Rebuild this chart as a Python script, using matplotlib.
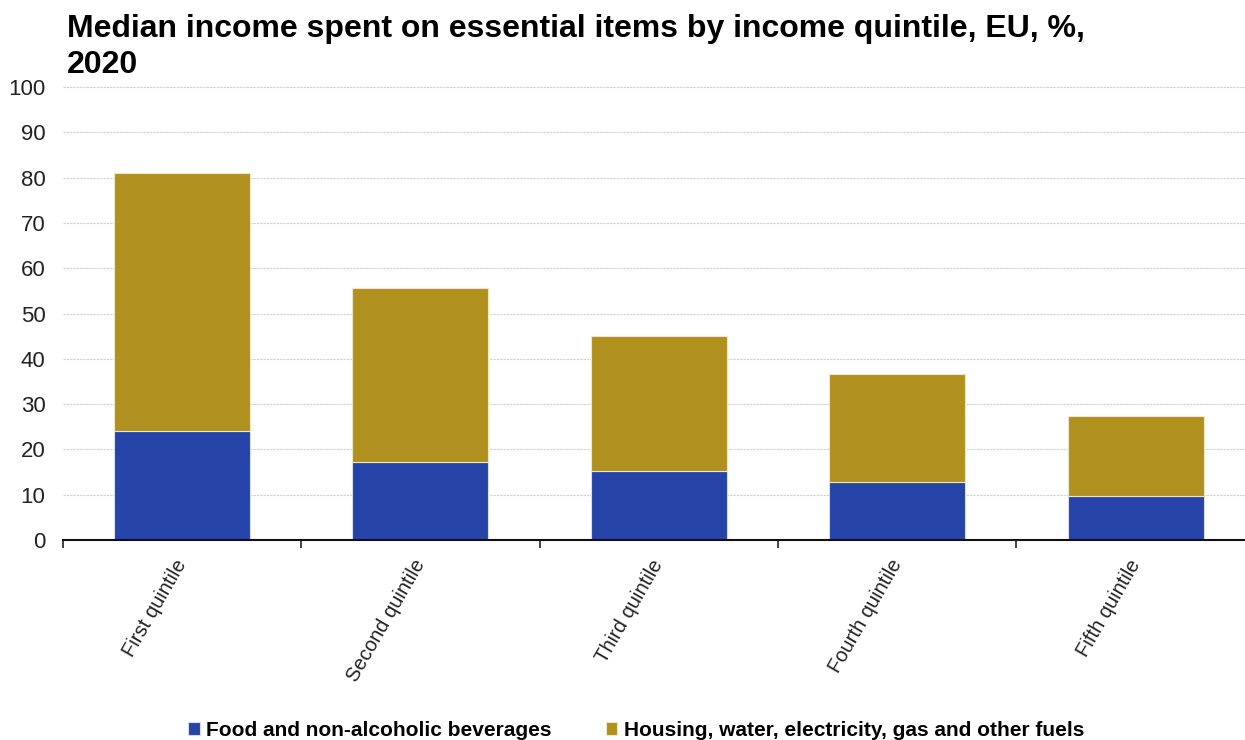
import matplotlib
matplotlib.use("Agg")
import matplotlib.pyplot as plt
import numpy as np

plt.rcParams['font.family'] = ['Liberation Sans', 'DejaVu Sans']

categories = ["First quintile", "Second quintile", "Third quintile",
              "Fourth quintile", "Fifth quintile"]
food = [24.1, 17.2, 15.2, 12.8, 9.7]
housing = [56.9, 38.4, 29.8, 23.8, 17.7]
series_names = ["Food and non-alcoholic beverages",
                "Housing, water, electricity, gas and other fuels"]
title = "Median income spent on essential items by income quintile, EU, %,\n2020"

blue = "#2644A7"
gold = "#B09120"

fig = plt.figure(figsize=(12.45, 7.40), dpi=100)
ax = fig.add_axes([62.8 / 1245, 200 / 740, 1192 / 1245, 453 / 740])

x = np.arange(len(categories))
w = 0.57
ax.bar(x, food, width=w, color=blue, edgecolor="#d8dcef", linewidth=0.8,
       label=series_names[0], zorder=3)
ax.bar(x, housing, width=w, bottom=food, color=gold, edgecolor="#efe6c4",
       linewidth=0.8, label=series_names[1], zorder=3)

ax.set_xlim(-0.5, len(categories) - 0.5)
ax.set_ylim(0, 100)
ax.set_yticks(range(0, 101, 10))
ax.yaxis.grid(True, color="#d0d0d0", linestyle=(0, (2, 1)), linewidth=0.8, zorder=0)
ax.tick_params(axis="y", length=0, labelsize=16, pad=12.5, colors="#222222")

# category labels at bar centres, tick marks at category boundaries
ax.set_xticks(x)
ax.set_xticklabels(categories, rotation=60, ha="right", va="center",
                   rotation_mode="anchor", fontsize=14.5, color="#222222")
ax.tick_params(axis="x", which="major", length=0, pad=15)
ax.set_xticks(np.arange(-0.5, len(categories), 1.0), minor=True)
ax.tick_params(axis="x", which="minor", length=6, width=1.2, color="#222222",
               direction="out")

for side in ("top", "right", "left"):
    ax.spines[side].set_visible(False)
ax.spines["bottom"].set_color("#111111")
ax.spines["bottom"].set_linewidth(1.5)
ax.spines["bottom"].set_zorder(4)

fig.text(67 / 1245, 1 - 14 / 740, title, ha="left", va="top",
         fontsize=23, fontweight="bold", linespacing=1.25)

leg = fig.legend(loc="lower center", bbox_to_anchor=(0.511, -0.025), ncol=2,
                 frameon=False, handlelength=0.55,
                 handleheight=0.55, handletextpad=0.3, columnspacing=2.6,
                 prop={"weight": "bold", "size": 15})

fig.savefig("out.png", dpi=100)
